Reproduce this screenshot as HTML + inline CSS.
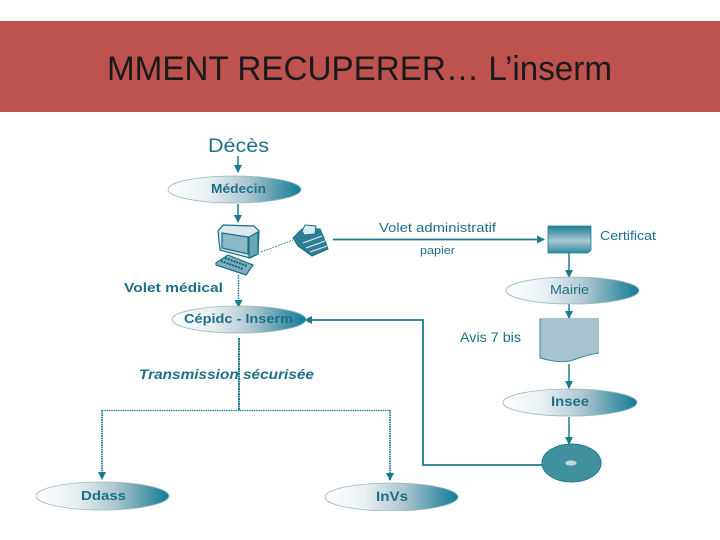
<!DOCTYPE html>
<html><head><meta charset="utf-8"><style>
html,body{margin:0;padding:0;background:#fff}
svg{display:block}
text{font-family:"Liberation Sans",sans-serif;fill:#1f7088}
.b{font-weight:bold}
.l{stroke:#1f7a90;fill:none}
</style></head><body>
<svg width="720" height="540" viewBox="0 0 720 540" xmlns="http://www.w3.org/2000/svg">
<defs>
<linearGradient id="g" x1="0" x2="1" y1="0" y2="0">
<stop offset="0" stop-color="#fff"/><stop offset=".3" stop-color="#e8eff2"/><stop offset=".6" stop-color="#acc6d0"/><stop offset=".85" stop-color="#4a95a9"/><stop offset="1" stop-color="#0f7f98"/>
</linearGradient>
<linearGradient id="c" x1="0" x2="0" y1="0" y2="1">
<stop offset="0" stop-color="#1d7f98"/><stop offset=".55" stop-color="#a9c7d1"/><stop offset="1" stop-color="#2f8aa0"/>
</linearGradient>
<marker id="a" markerWidth="8" markerHeight="8" refX="7" refY="4" orient="auto" markerUnits="userSpaceOnUse"><path d="M0 0L8 4L0 8Z" fill="#1f7a90"/></marker>
<filter id="s" x="0" y="0" width="1" height="1"><feGaussianBlur stdDeviation=".35"/></filter>
</defs>
<rect x="0" y="21" width="720" height="91" fill="#bd524f"/>
<text x="107" y="80" font-size="34" textLength="505" lengthAdjust="spacingAndGlyphs" style="fill:#1a1a1a">MMENT RECUPERER… L’inserm</text>

<g filter="url(#s)">
<g class="l" stroke-width="1.500">
<path d="M238 156V172" marker-end="url(#a)"/>
<path d="M238 204V222" marker-end="url(#a)"/>
<path d="M238.500 275V307" stroke-dasharray="1.500 1" marker-end="url(#a)"/>
<path d="M239 338V410" stroke-width="2" stroke-dasharray="2 .5"/>
<path d="M102 410.500H390" stroke-width="1.200" stroke-dasharray="1.500 .8"/>
<path d="M102 410V479" stroke-width="1.800" stroke-dasharray="1.500 .8" marker-end="url(#a)"/>
<path d="M390 410V480" stroke-width="1.800" stroke-dasharray="1.500 .8" marker-end="url(#a)"/>
<path d="M542 465H423V320H305" stroke-width="1.800" marker-end="url(#a)"/>
<path d="M333 239.500H544" stroke-width="1.800" marker-end="url(#a)"/>
<path d="M569 253V277" marker-end="url(#a)"/>
<path d="M569 304V318" marker-end="url(#a)"/>
<path d="M569 364V388" marker-end="url(#a)"/>
<path d="M569 417V444" marker-end="url(#a)"/>
</g>
<path d="M261 252L293 240" stroke="#4a8a9b" stroke-width="1" stroke-dasharray="2 1"/>

<g stroke="#9db8c1" stroke-width=".8" fill="url(#g)">
<ellipse cx="234.500" cy="189.500" rx="66.500" ry="13.500"/>
<ellipse cx="239" cy="319.500" rx="67" ry="13.500"/>
<ellipse cx="572.500" cy="290.500" rx="66.500" ry="13.500"/>
<ellipse cx="570" cy="402.500" rx="67" ry="13.500"/>
<ellipse cx="102.500" cy="496" rx="66.500" ry="14"/>
<ellipse cx="391.500" cy="497" rx="66.500" ry="14"/>
</g>

<!-- computer -->
<g stroke="#176e85" stroke-width="1.200">
<path d="M218 231L223 225L254 226L259 231L258 254L250 258L220 250Z" fill="#dce8ec"/>
<path d="M222 233L248 237L248 254L222 248Z" fill="#8dbac8"/>
<path d="M249 237L258 232L258 254L249 258Z" fill="#6aa6b8"/>
<path d="M216 263L228 255L253 265L246 275L216 265Z" fill="#7fb0bf"/>
</g>
<path d="M221 261L243 269M225 258L247 266" stroke="#0f5f75" stroke-width="2" stroke-dasharray="2 1"/>

<!-- printer -->
<g stroke="#176e85" stroke-width="1">
<path d="M293 238L302 229L320 229L324 238L328 249L312 256L298 246Z" fill="#2f7f94"/>
<path d="M302 231L305 225L316 226L315 234L304 235Z" fill="#dbe8ec"/>
<path d="M303 243L322 236M306 248L325 241M310 252L327 246" stroke="#e3eef1"/>
</g>

<!-- certificat -->
<path d="M548 226H591V250L588 253H548Z" fill="url(#c)" stroke="#1f7a90" stroke-width=".8"/>
<!-- avis -->
<path d="M540 318H599V353C585 355 580 358 570 361C558 363 548 360 540 358Z" fill="#a6c3ce"/>
<path d="M540 318.800V358C548 360 558 363 570 361C580 358 585 355 599 353" fill="none" stroke="#3a8ba0" stroke-width="1"/>

<!-- disc -->
<ellipse cx="571.500" cy="463" rx="29.500" ry="19" fill="#43919f" stroke="#237a8f"/>
<ellipse cx="571" cy="463" rx="6" ry="3" fill="#c5d8dd" stroke="#2c7a8e" stroke-width=".5"/>

<text x="208" y="152" font-size="19" textLength="61" lengthAdjust="spacingAndGlyphs">Décès</text>
<text class="b" x="211" y="193" font-size="12.500" textLength="55" lengthAdjust="spacingAndGlyphs">Médecin</text>
<text class="b" x="124" y="292" font-size="13" textLength="99" lengthAdjust="spacingAndGlyphs">Volet médical</text>
<text class="b" x="184" y="323" font-size="13" textLength="109" lengthAdjust="spacingAndGlyphs">Cépidc - Inserm</text>
<text class="b" x="139" y="379" font-size="13.500" font-style="italic" textLength="175" lengthAdjust="spacingAndGlyphs">Transmission sécurisée</text>
<text class="b" x="81" y="500" font-size="13" textLength="45" lengthAdjust="spacingAndGlyphs">Ddass</text>
<text class="b" x="376" y="501" font-size="13.500" textLength="32" lengthAdjust="spacingAndGlyphs">InVs</text>
<text x="379" y="232" font-size="13" textLength="117" lengthAdjust="spacingAndGlyphs">Volet administratif</text>
<text x="420" y="254" font-size="11" textLength="35" lengthAdjust="spacingAndGlyphs">papier</text>
<text x="600" y="240" font-size="13" textLength="56" lengthAdjust="spacingAndGlyphs">Certificat</text>
<text x="550" y="294" font-size="13" textLength="39" lengthAdjust="spacingAndGlyphs">Mairie</text>
<text x="460" y="342" font-size="13.500" textLength="61" lengthAdjust="spacingAndGlyphs">Avis 7 bis</text>
<text class="b" x="551" y="406" font-size="13.500" textLength="38" lengthAdjust="spacingAndGlyphs">Insee</text>
</g>
</svg>
</body></html>
